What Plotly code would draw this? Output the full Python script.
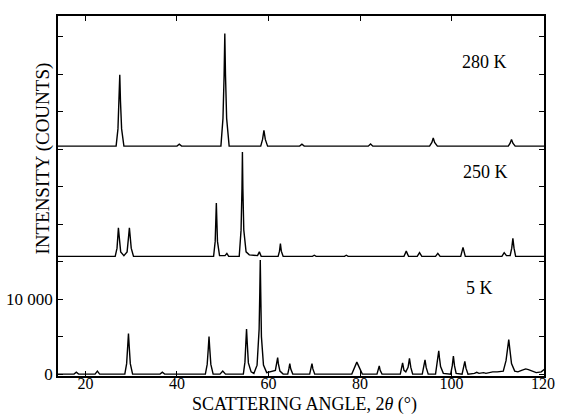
import plotly.graph_objects as go

# ---- data (2theta in degrees, intensity in counts above each trace's baseline) ----
angle_280K = [14, 26.7, 27.1, 27.35, 27.5, 27.65, 27.9, 28.4, 40.0, 40.5, 41.0,
              49.6, 50.05, 50.3, 50.45, 50.6, 50.85, 51.4, 58.3, 58.7, 59.0, 59.3, 59.8,
              66.8, 67.3, 67.8, 81.8, 82.3, 82.8, 95.2, 95.7, 96.0, 96.3, 96.9,
              112.4, 112.8, 113.1, 113.4, 113.9, 120.5]
counts_280K = [0, 0, 2300, 6000, 9500, 6000, 2300, 0, 0, 250, 0,
               0, 3700, 9500, 15000, 9500, 3700, 0, 0, 900, 2100, 900, 0,
               0, 250, 0, 0, 300, 0, 0, 500, 1100, 500, 0,
               0, 400, 900, 400, 0, 0]

angle_250K = [14, 26.5, 26.9, 27.1, 27.2, 27.35, 27.7, 28.4, 29.1, 29.45, 29.6, 29.75, 30.0, 30.5,
              48.0, 48.35, 48.5, 48.6, 48.7, 48.85, 49.3, 50.5, 50.9, 51.3,
              53.6, 54.0, 54.2, 54.3, 54.4, 54.6, 55.1, 55.8, 57.6, 58.0, 58.4,
              62.1, 62.4, 62.6, 62.8, 63.2, 69.6, 70.0, 70.4, 76.6, 77.0, 77.4,
              89.6, 90.1, 90.6, 92.5, 93.0, 93.5, 96.5, 97.0, 97.5, 102.0, 102.5, 103.0,
              111.0, 111.5, 112.0, 112.8, 113.15, 113.4, 113.65, 114.0, 120.5]
counts_250K = [0, 0, 1100, 2800, 3800, 2800, 600, 100, 600, 2800, 3800, 2800, 1100, 0,
               0, 2000, 5000, 7100, 5000, 2000, 100, 100, 400, 0,
               0, 3500, 9000, 13900, 9000, 3500, 600, 200, 100, 600, 0,
               0, 700, 1700, 700, 0, 0, 150, 0, 0, 150, 0,
               0, 700, 0, 0, 500, 0, 0, 400, 0, 0, 1200, 0,
               0, 500, 100, 100, 1100, 2400, 1100, 0, 0]

angle_5K = [14, 17.5, 18.0, 18.5, 22.1, 22.6, 23.1, 28.6, 29.0, 29.25, 29.4, 29.55, 29.8, 30.3,
            36.3, 36.8, 37.3, 46.2, 46.6, 46.85, 47.0, 47.15, 47.4, 47.9, 49.4, 50.0, 50.6,
            54.5, 54.85, 55.05, 55.2, 55.35, 55.6, 56.2, 56.8, 57.5, 57.95, 58.1, 58.2, 58.3, 58.45, 58.9, 59.6,
            61.5, 61.85, 62.0, 62.15, 62.5, 63.2, 64.2, 64.45, 64.65, 64.85, 65.3,
            69.0, 69.3, 69.5, 69.7, 70.1, 78.2, 78.7, 79.3, 79.9, 80.5,
            83.7, 84.0, 84.2, 84.4, 84.8, 88.8, 89.1, 89.3, 89.6, 90.0, 90.5, 90.8, 91.1, 91.5,
            93.6, 93.95, 94.2, 94.45, 94.9, 96.5, 96.85, 97.05, 97.2, 97.35, 97.6, 98.2,
            99.8, 100.15, 100.4, 100.65, 101.0, 102.3, 102.65, 102.9, 103.15, 103.6,
            105.0, 105.5, 106.0, 107.0, 107.5, 108.5, 109.0, 110.0,
            111.3, 111.9, 112.3, 112.5, 112.7, 113.1, 113.8, 114.5, 115.3, 116.2, 116.8, 117.5, 118.5,
            119.6, 120.0, 120.4]
counts_5K = [0, 0, 250, 0, 0, 400, 0, 0, 1400, 3800, 5400, 3800, 1400, 0,
             0, 250, 0, 0, 1300, 3500, 5000, 3500, 1300, 0, 0, 400, 0,
             0, 1600, 4200, 6000, 4200, 1500, 300, 100, 1200, 6000, 11000, 15200, 11000, 5000, 1200, 200,
             500, 1400, 2200, 1400, 400, 0, 0, 700, 1400, 700, 0,
             0, 700, 1400, 700, 0, 0, 800, 1600, 800, 0,
             0, 500, 1100, 500, 0, 0, 700, 1500, 500, 300, 900, 2100, 900, 0,
             0, 900, 1900, 900, 0, 0, 1500, 2600, 3100, 2200, 1000, 100,
             0, 1100, 2400, 1100, 100, 0, 800, 1700, 800, 0,
             100, 250, 100, 200, 100, 250, 300, 300,
             400, 1800, 3500, 4600, 3500, 1400, 400, 300, 500, 700, 600, 400, 200,
             300, 500, 700]

trace_labels = ["280 K", "250 K", "5 K"]
y_tick_values = [0, 5000, 10000, 15000, 20000, 25000, 30000, 35000, 40000, 45000]
y_tick_text = ["0", "", "10 000", "", "", "", "", "", "", ""]
x_tick_values = [20, 40, 60, 80, 100, 120]

# ---- vertical stacking offsets (layout) ----
OFFSET_280K = 30400
OFFSET_250K = 15700
OFFSET_5K = 0

FONT = "Liberation Serif"
LINE = dict(color="black", width=1.4)

fig = go.Figure()
for xs, ys, off in [(angle_280K, counts_280K, OFFSET_280K),
                    (angle_250K, counts_250K, OFFSET_250K),
                    (angle_5K, counts_5K, OFFSET_5K)]:
    fig.add_trace(go.Scatter(x=xs, y=[v + off for v in ys], mode="lines",
                             line=LINE, showlegend=False, hoverinfo="skip"))

label_pos = [(107.2, OFFSET_280K + 11200), (107.4, OFFSET_250K + 11200), (106.1, 11500)]
for text, (lx, ly) in zip(trace_labels, label_pos):
    fig.add_annotation(x=lx, y=ly, text=text, showarrow=False,
                       font=dict(family=FONT, size=18, color="black"))

fig.add_annotation(xref="paper", yref="paper", x=-0.030, y=0.605, text="INTENSITY (COUNTS)",
                   textangle=-90, showarrow=False, xanchor="center", yanchor="middle",
                   font=dict(family=FONT, size=19, color="black"))
fig.add_annotation(xref="paper", yref="paper", x=0.507, y=-0.079,
                   text="SCATTERING ANGLE, 2<i>θ</i> (°)", showarrow=False,
                   xanchor="center", yanchor="middle",
                   font=dict(family=FONT, size=18, color="black"))

fig.update_xaxes(range=[14, 120.2], tickvals=x_tick_values, ticks="inside", ticklen=5,
                 tickcolor="black", showline=True, linecolor="black", linewidth=1.5,
                 mirror="ticks", showgrid=False, zeroline=False, ticklabeloverflow="allow",
                 ticklabelstandoff=-8,
                 tickfont=dict(family=FONT, size=16, color="black"))
fig.update_yaxes(range=[-250, 47750], tickvals=y_tick_values, ticktext=y_tick_text,
                 ticks="inside", ticklen=5, tickcolor="black", showline=True,
                 linecolor="black", linewidth=1.5, mirror="ticks", showgrid=False,
                 zeroline=False, tickfont=dict(family=FONT, size=17, color="black"))

fig.update_layout(width=561, height=414, margin=dict(l=58, r=6, t=16, b=38),
                  paper_bgcolor="white", plot_bgcolor="white")

fig.write_html("out.html", config={"displayModeBar": False},
               post_script="document.body.style.margin='0px';document.body.style.overflow='hidden';")
